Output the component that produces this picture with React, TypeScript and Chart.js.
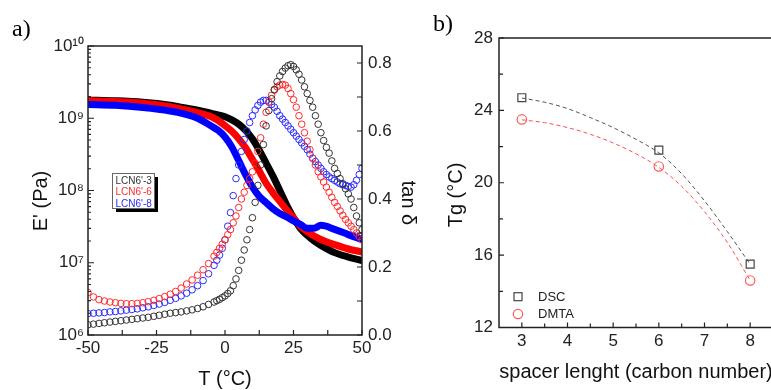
import React, { useEffect, useRef } from 'react';
import { Chart, registerables } from 'chart.js';
Chart.register(...registerables);

const FONT = "'Liberation Sans', Arial, Helvetica, sans-serif";
const SERIF = "'Liberation Serif', 'Times New Roman', serif";

// ---------------- panel a) ----------------
const SERIES_NAMES = ["LCN6'-3", "LCN6'-6", "LCN6'-8"];
const SERIES_COLORS = ['#000000', '#ff0000', '#0000ff'];
const CIRCLE_COLORS = ['#333333', '#ff2a2a', '#2a2aff'];

// storage modulus E' (Pa)
const E_TEMPS = [-50, -40, -30, -20, -15, -10, -5, -2.5, 0, 2.5, 5, 7.5, 10, 12.5, 15, 17.5, 20, 22.5, 25, 27.5, 30, 32.5, 35, 40, 45, 50];
const E_LCN6_3 = [1.78e9, 1.74e9, 1.66e9, 1.51e9, 1.4e9, 1.29e9, 1.17e9, 1.11e9, 1.05e9, 9.5e8, 8.3e8, 6.8e8, 5.2e8, 3.6e8, 2.4e8, 1.58e8, 1.0e8, 6.3e7, 4.2e7, 3.0e7, 2.4e7, 2.0e7, 1.74e7, 1.38e7, 1.2e7, 1.07e7];
const E_LCN6_6 = [1.74e9, 1.7e9, 1.62e9, 1.45e9, 1.32e9, 1.2e9, 1.05e9, 9.3e8, 7.9e8, 6.6e8, 5.2e8, 3.9e8, 2.7e8, 1.86e8, 1.26e8, 9.3e7, 7.1e7, 5.4e7, 4.2e7, 3.2e7, 2.7e7, 2.35e7, 2.1e7, 1.78e7, 1.55e7, 1.41e7];
const E_LCN6_8 = [1.55e9, 1.51e9, 1.41e9, 1.26e9, 1.15e9, 1.0e9, 7.8e8, 6.8e8, 5.5e8, 4.0e8, 2.6e8, 1.66e8, 1.12e8, 8.3e7, 6.8e7, 5.6e7, 4.8e7, 4.3e7, 3.8e7, 3.4e7, 3.0e7, 3.0e7, 3.3e7, 2.9e7, 2.45e7, 2.1e7];

// tan delta
const TD_TEMPS = [
  -50, -48, -46, -44, -42, -40, -38, -36, -34, -32, -30, -28, -26, -24, -22, -20, -18, -16, -14, -12, -10, -8, -6,
  -4, -3, -2, -1, 0, 1, 2, 3, 4, 5, 6, 7, 8, 9, 10, 11, 12, 13, 14, 15, 16, 17, 18, 19, 20, 21, 22, 23, 24, 25,
  26, 27, 28, 29, 30, 31, 32, 33, 34, 35, 36, 37, 38, 39, 40, 41, 42, 43, 44, 45, 46, 47, 48, 49, 50,
];
const TD_LCN6_3 = [
  0.03, 0.032, 0.034, 0.036, 0.038, 0.04, 0.042, 0.044, 0.046, 0.048, 0.05, 0.052, 0.055, 0.058, 0.061, 0.064, 0.066, 0.068, 0.071, 0.074, 0.078, 0.083, 0.09,
  0.097, 0.101, 0.105, 0.11, 0.115, 0.122, 0.13, 0.145, 0.165, 0.19, 0.22, 0.25, 0.28, 0.31, 0.345, 0.39, 0.44, 0.5, 0.56, 0.615, 0.66, 0.695, 0.722, 0.745, 0.762, 0.775, 0.785, 0.792, 0.795, 0.79,
  0.78, 0.767, 0.75, 0.73, 0.71, 0.69, 0.67, 0.645, 0.62, 0.595, 0.572, 0.552, 0.535, 0.512, 0.49, 0.475, 0.46, 0.445, 0.43, 0.415, 0.4, 0.375, 0.35, 0.33, 0.31,
];
const TD_LCN6_6 = [
  0.125, 0.112, 0.104, 0.1, 0.097, 0.095, 0.093, 0.092, 0.092, 0.093, 0.095, 0.098, 0.102, 0.107, 0.113, 0.12, 0.128, 0.138, 0.15, 0.162, 0.176, 0.192, 0.21,
  0.232, 0.243, 0.255, 0.267, 0.28, 0.295, 0.31, 0.33, 0.35, 0.375, 0.4, 0.42, 0.44, 0.46, 0.48, 0.505, 0.54, 0.58, 0.62, 0.655, 0.685, 0.705, 0.72, 0.73, 0.735, 0.737, 0.735, 0.725, 0.71, 0.692,
  0.67, 0.645, 0.62, 0.595, 0.57, 0.545, 0.52, 0.5, 0.48, 0.465, 0.45, 0.435, 0.42, 0.405, 0.39, 0.378, 0.365, 0.352, 0.34, 0.33, 0.32, 0.31, 0.3, 0.29, 0.28,
];
const TD_LCN6_8 = [
  0.063, 0.064, 0.065, 0.066, 0.068, 0.069, 0.071, 0.073, 0.075, 0.077, 0.08, 0.083, 0.087, 0.091, 0.096, 0.102, 0.108, 0.115, 0.123, 0.133, 0.145, 0.16, 0.18,
  0.205, 0.22, 0.235, 0.255, 0.28, 0.32, 0.36, 0.41, 0.46, 0.5, 0.54, 0.575, 0.6, 0.625, 0.645, 0.662, 0.675, 0.685, 0.69, 0.69, 0.685, 0.678, 0.67, 0.658, 0.645, 0.635, 0.625, 0.615, 0.605, 0.595,
  0.585, 0.575, 0.565, 0.555, 0.545, 0.532, 0.52, 0.51, 0.5, 0.49, 0.48, 0.472, 0.465, 0.46, 0.455, 0.45, 0.445, 0.442, 0.44, 0.437, 0.435, 0.442, 0.455, 0.472, 0.49,
];

const T_TICKS = [-50, -25, 0, 25, 50];
const T_MINOR = [-37.5, -12.5, 12.5, 37.5];
const E_TICKS = [1e6, 1e7, 1e8, 1e9, 1e10];
const E_TICK_LABELS = ['10⁶', '10⁷', '10⁸', '10⁹', '10¹⁰'];
const E_MINOR = [1e6, 1e7, 1e8, 1e9].flatMap((d) => [2, 3, 4, 5, 6, 7, 8, 9].map((m) => m * d));
const TAN_TICKS = [0, 0.2, 0.4, 0.6, 0.8];
const TAN_TICK_LABELS = ['0.0', '0.2', '0.4', '0.6', '0.8'];
const TAN_MINOR = [0.1, 0.3, 0.5, 0.7];

// ---------------- panel b) ----------------
const SPACER = [3, 6, 8];
const TG_DSC = [24.7, 21.8, 15.5];
const TG_DMTA = [23.5, 20.9, 14.6];
const FIT_X = [3, 3.5, 4, 4.5, 5, 5.5, 6, 6.5, 7, 7.5, 8];
const FIT_DSC = [24.68, 24.45, 24.1, 23.6, 23.05, 22.4, 21.65, 20.5, 19.0, 17.3, 15.5];
const FIT_DMTA = [23.48, 23.32, 23.05, 22.68, 22.2, 21.6, 20.85, 19.8, 18.4, 16.7, 14.6];
const SPACER_TICKS = [3, 4, 5, 6, 7, 8];
const SPACER_MINOR = [3.5, 4.5, 5.5, 6.5, 7.5];
const TG_TICKS = [12, 16, 20, 24, 28];
const TG_MINOR = [14, 18, 22, 26];

const toXY = (xs: number[], ys: number[]) => xs.map((x, i) => ({ x, y: ys[i] }));

function inwardTicks(chart: any, axisId: string, values: number[], len: number, side: string) {
  const s = chart.scales[axisId];
  const ca = chart.chartArea;
  const ctx = chart.ctx;
  ctx.beginPath();
  for (const v of values) {
    const p = s.getPixelForValue(v);
    if (side === 'bottom') { ctx.moveTo(p, ca.bottom); ctx.lineTo(p, ca.bottom - len); }
    else if (side === 'left') { ctx.moveTo(ca.left, p); ctx.lineTo(ca.left + len, p); }
    else { ctx.moveTo(ca.right, p); ctx.lineTo(ca.right - len, p); }
  }
  ctx.stroke();
}

function rotText(ctx: CanvasRenderingContext2D, text: string, x: number, y: number, ang: number, font: string) {
  ctx.save();
  ctx.translate(x, y);
  ctx.rotate(ang);
  ctx.font = font;
  ctx.fillStyle = '#111';
  ctx.textAlign = 'center';
  ctx.textBaseline = 'middle';
  ctx.fillText(text, 0, 0);
  ctx.restore();
}

const decorA = {
  id: 'decorA',
  afterDraw(chart: any) {
    const ctx = chart.ctx as CanvasRenderingContext2D;
    const ca = chart.chartArea;
    ctx.save();
    ctx.strokeStyle = '#222';
    ctx.lineWidth = 1.5;
    ctx.strokeRect(ca.left, ca.top, ca.right - ca.left, ca.bottom - ca.top);
    ctx.lineWidth = 1.2;
    inwardTicks(chart, 'x', T_TICKS, 5, 'bottom');
    inwardTicks(chart, 'x', T_MINOR, 5, 'bottom');
    inwardTicks(chart, 'y', E_TICKS, 6, 'left');
    inwardTicks(chart, 'y', E_MINOR, 3, 'left');
    inwardTicks(chart, 'y2', TAN_TICKS, 5, 'right');
    inwardTicks(chart, 'y2', TAN_MINOR, 5, 'right');
    // titles
    rotText(ctx, "E' (Pa)", 41, 201, -Math.PI / 2, `20px ${FONT}`);
    rotText(ctx, 'tan δ', 408, 203, Math.PI / 2, `20px ${FONT}`);
    // panel label
    ctx.font = `24px ${SERIF}`;
    ctx.fillStyle = '#000';
    ctx.textAlign = 'left';
    ctx.textBaseline = 'alphabetic';
    ctx.fillText('a)', 12, 36);
    // legend box
    const bx = 112, by = 173, bw = 42, bh = 35;
    ctx.fillStyle = '#000';
    ctx.fillRect(bx + 4, by + 4, bw, bh);
    ctx.fillStyle = '#fff';
    ctx.fillRect(bx, by, bw, bh);
    ctx.strokeStyle = '#666';
    ctx.lineWidth = 1;
    ctx.strokeRect(bx + 0.5, by + 0.5, bw, bh);
    ctx.font = `10px ${FONT}`;
    ctx.textBaseline = 'middle';
    const ys = [181, 192.5, 204];
    SERIES_NAMES.forEach((n, i) => {
      ctx.fillStyle = i === 0 ? '#333' : CIRCLE_COLORS[i];
      ctx.fillText(n, bx + 3.5, ys[i]);
    });
    ctx.restore();
  },
};

const decorB = {
  id: 'decorB',
  afterDraw(chart: any) {
    const ctx = chart.ctx as CanvasRenderingContext2D;
    const ca = chart.chartArea;
    ctx.save();
    ctx.strokeStyle = '#222';
    ctx.lineWidth = 1.5;
    ctx.strokeRect(ca.left, ca.top, ca.right - ca.left, ca.bottom - ca.top);
    ctx.lineWidth = 1.2;
    inwardTicks(chart, 'x', SPACER_TICKS, 5, 'bottom');
    inwardTicks(chart, 'x', SPACER_MINOR, 4, 'bottom');
    inwardTicks(chart, 'y', TG_TICKS, 5, 'left');
    inwardTicks(chart, 'y', TG_MINOR, 4, 'left');
    rotText(ctx, 'Tg (°C)', 36, 195, -Math.PI / 2, `20px ${FONT}`);
    ctx.font = `24px ${SERIF}`;
    ctx.fillStyle = '#000';
    ctx.textAlign = 'left';
    ctx.textBaseline = 'alphabetic';
    ctx.fillText('b)', 13, 31);
    // legend
    ctx.lineWidth = 1.2;
    ctx.strokeStyle = '#444';
    ctx.strokeRect(98 - 4, 296.7 - 4, 8, 8);
    ctx.strokeStyle = '#ff5a5a';
    ctx.beginPath();
    ctx.arc(98, 314, 4.7, 0, Math.PI * 2);
    ctx.stroke();
    ctx.font = `13px ${FONT}`;
    ctx.fillStyle = '#222';
    ctx.textBaseline = 'middle';
    ctx.fillText('DSC', 118, 297);
    ctx.fillText('DMTA', 118, 314.5);
    ctx.restore();
  },
};

const tickFont = { family: FONT, size: 17 };
const titleFont = { family: FONT, size: 20, lineHeight: 1 };
const noGrid = { display: false, drawTicks: false };

function leftConfig(): any {
  const circles = [TD_LCN6_3, TD_LCN6_6, TD_LCN6_8].map((d, i) => ({
    label: `tan δ ${SERIES_NAMES[i]}`,
    data: toXY(TD_TEMPS, d),
    yAxisID: 'y2',
    showLine: false,
    pointStyle: 'circle',
    pointRadius: 3.3,
    borderWidth: 1,
    borderColor: CIRCLE_COLORS[i],
    backgroundColor: 'rgba(0,0,0,0)',
    clip: 0,
  }));
  const lines = [E_LCN6_8, E_LCN6_6, E_LCN6_3].map((d, k) => {
    const i = 2 - k;
    return {
      label: `E' ${SERIES_NAMES[i]}`,
      data: toXY(E_TEMPS, d),
      yAxisID: 'y',
      showLine: true,
      pointRadius: 0,
      borderColor: SERIES_COLORS[i],
      backgroundColor: SERIES_COLORS[i],
      borderWidth: 7,
      borderCapStyle: 'round',
      borderJoinStyle: 'round',
      cubicInterpolationMode: 'monotone',
      clip: 0,
    };
  });
  return {
    type: 'scatter',
    data: { datasets: [...circles, ...lines] },
    options: {
      responsive: false,
      animation: false,
      layout: { padding: { top: 46, left: 0, right: 0, bottom: 0 } },
      plugins: { legend: { display: false }, tooltip: { enabled: false } },
      scales: {
        x: {
          type: 'linear', min: -50, max: 50,
          afterBuildTicks: (s: any) => { s.ticks = T_TICKS.map((v) => ({ value: v })); },
          ticks: { font: tickFont, color: '#222', padding: 3, autoSkip: false, maxRotation: 0, callback: (v: any) => String(v) },
          grid: noGrid, border: { display: false },
          title: { display: true, text: 'T (°C)', font: titleFont, color: '#111', padding: { top: 0, bottom: 1 } },
          afterFit: (s: any) => { s.height = 55; },
        },
        y: {
          type: 'logarithmic', position: 'left', min: 1e6, max: 1e10,
          afterBuildTicks: (s: any) => { s.ticks = E_TICKS.map((v) => ({ value: v })); },
          ticks: { font: tickFont, color: '#222', padding: 4, autoSkip: false, callback: (_v: any, i: number) => E_TICK_LABELS[i] },
          grid: noGrid, border: { display: false },
          afterFit: (s: any) => { s.width = 88; },
        },
        y2: {
          type: 'linear', position: 'right', min: 0, max: 0.85,
          afterBuildTicks: (s: any) => { s.ticks = TAN_TICKS.map((v) => ({ value: v })); },
          ticks: { font: tickFont, color: '#222', padding: 6, autoSkip: false, callback: (_v: any, i: number) => TAN_TICK_LABELS[i] },
          grid: noGrid, border: { display: false },
          afterFit: (s: any) => { s.width = 58; },
        },
      },
    },
    plugins: [decorA],
  };
}

function rightConfig(): any {
  return {
    type: 'scatter',
    data: {
      datasets: [
        {
          label: 'DSC', data: toXY(SPACER, TG_DSC), showLine: false,
          pointStyle: 'rect', pointRadius: 5.6, borderWidth: 1.2, borderColor: '#444', backgroundColor: 'rgba(0,0,0,0)',
        },
        {
          label: 'DMTA', data: toXY(SPACER, TG_DMTA), showLine: false,
          pointStyle: 'circle', pointRadius: 4.7, borderWidth: 1.2, borderColor: '#ff5a5a', backgroundColor: 'rgba(0,0,0,0)',
        },
        {
          label: 'DSC fit', data: toXY(FIT_X, FIT_DSC), showLine: true, pointRadius: 0,
          borderColor: '#555', borderWidth: 1, borderDash: [4, 3], cubicInterpolationMode: 'monotone',
        },
        {
          label: 'DMTA fit', data: toXY(FIT_X, FIT_DMTA), showLine: true, pointRadius: 0,
          borderColor: '#ff4d4d', borderWidth: 1, borderDash: [4, 3], cubicInterpolationMode: 'monotone',
        },
      ],
    },
    options: {
      responsive: false,
      animation: false,
      layout: { padding: { top: 38, left: 0, right: 17, bottom: 0 } },
      plugins: { legend: { display: false }, tooltip: { enabled: false } },
      scales: {
        x: {
          type: 'linear', min: 2.5, max: 8.5,
          afterBuildTicks: (s: any) => { s.ticks = SPACER_TICKS.map((v) => ({ value: v })); },
          ticks: { font: tickFont, color: '#222', padding: 4, autoSkip: false, maxRotation: 0, callback: (v: any) => String(v) },
          grid: noGrid, border: { display: false },
          title: { display: true, text: 'spacer lenght (carbon number)', font: titleFont, color: '#111', padding: { top: 0, bottom: 8 } },
          afterFit: (s: any) => { s.height = 62.5; },
        },
        y: {
          type: 'linear', position: 'left', min: 12, max: 28,
          afterBuildTicks: (s: any) => { s.ticks = TG_TICKS.map((v) => ({ value: v })); },
          ticks: { font: tickFont, color: '#222', padding: 6, autoSkip: false, callback: (v: any) => String(v) },
          grid: noGrid, border: { display: false },
          afterFit: (s: any) => { s.width = 79; },
        },
      },
    },
    plugins: [decorB],
  };
}

export default function App() {
  const leftRef = useRef<HTMLCanvasElement>(null);
  const rightRef = useRef<HTMLCanvasElement>(null);
  useEffect(() => {
    const a = new Chart(leftRef.current as HTMLCanvasElement, leftConfig());
    const b = new Chart(rightRef.current as HTMLCanvasElement, rightConfig());
    return () => { a.destroy(); b.destroy(); };
  }, []);
  return (
    <div style={{ position: 'fixed', left: 0, top: 0, width: 771, height: 390, overflow: 'hidden', background: '#fff' }}>
      <canvas ref={leftRef} width={420} height={390} style={{ position: 'absolute', left: 0, top: 0, width: 420, height: 390 }} />
      <canvas ref={rightRef} width={370} height={390} style={{ position: 'absolute', left: 420, top: 0, width: 370, height: 390 }} />
    </div>
  );
}
